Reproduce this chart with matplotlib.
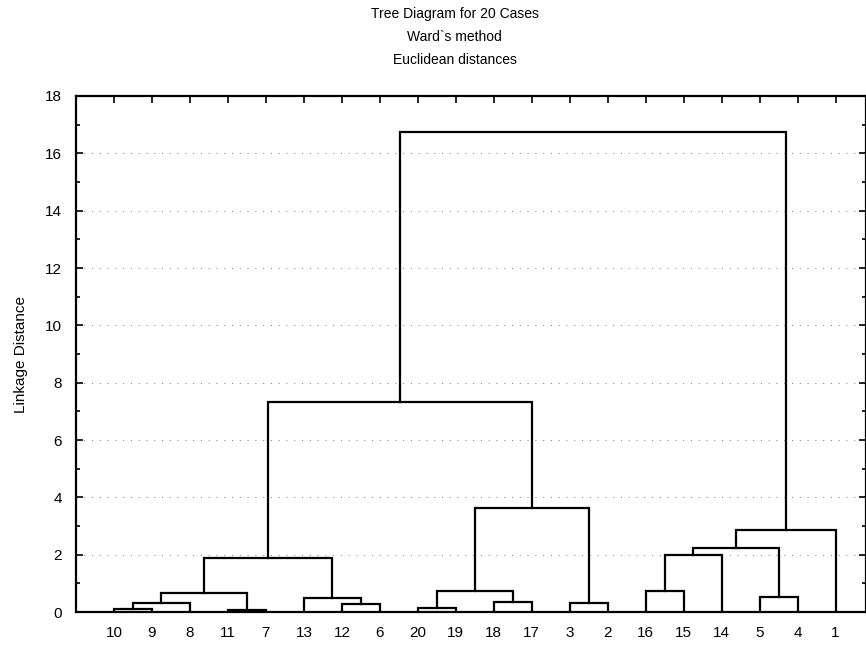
import matplotlib.pyplot as plt
from matplotlib.ticker import MultipleLocator

plt.rcParams["font.family"] = ["Liberation Sans", "DejaVu Sans"]
plt.rcParams["font.size"] = 11

# leaf order along the x axis
LEAVES = [10, 9, 8, 11, 7, 13, 12, 6, 20, 19, 18, 17, 3, 2, 16, 15, 14, 5, 4, 1]

# merges: (left, right, linkage distance); "mN" refers to the N-th merge (1-based)
MERGE_LEFT = [10, "m1", 11, "m2", 12, 13, "m4", 20, 18, "m8", 3, "m10", "m7",
              16, "m14", 5, "m15", "m17", "m13"]
MERGE_RIGHT = [9, 8, 7, "m3", 6, "m5", "m6", 19, 17, "m9", 2, "m11", "m12",
               15, 14, 4, "m16", 1, "m18"]
MERGE_HEIGHT = [0.10, 0.30, 0.06, 0.67, 0.28, 0.48, 1.88, 0.15, 0.36, 0.72, 0.32,
                3.63, 7.34, 0.75, 1.98, 0.54, 2.25, 2.87, 16.75]

fig = plt.figure(figsize=(8.66, 6.46), dpi=100)
ax = fig.add_axes([0.0878, 0.0526, 0.9122, 0.7988])

pos = {leaf: i + 1 for i, leaf in enumerate(LEAVES)}
height = {leaf: 0.0 for leaf in LEAVES}

for k, (a, b, h) in enumerate(zip(MERGE_LEFT, MERGE_RIGHT, MERGE_HEIGHT)):
    xa, xb = pos[a], pos[b]
    ha, hb = height[a], height[b]
    ax.plot([xa, xa, xb, xb], [ha, h, h, hb], color="black", lw=1.6,
            solid_joinstyle="miter", zorder=3)
    name = "m" + str(k + 1)
    pos[name] = (xa + xb) / 2
    height[name] = h

# sparse dotted grid like the scanned original
for g in range(2, 18, 2):
    ax.axhline(g, color="#777777", lw=0.7, linestyle=(0, (1, 7)), zorder=1)

ax.set_xlim(0, 20.8)
ax.set_ylim(0, 18)
ax.set_xticks(range(1, len(LEAVES) + 1))
ax.set_xticklabels([str(l) for l in LEAVES])
ax.yaxis.set_major_locator(MultipleLocator(2))
ax.yaxis.set_minor_locator(MultipleLocator(1))
ax.tick_params(axis="both", which="both", direction="in", top=True, right=True,
               width=1.2, labelsize=11)
ax.tick_params(axis="x", bottom=False)
ax.tick_params(axis="both", which="major", length=5)
ax.tick_params(axis="y", which="minor", length=3)
ax.tick_params(axis="x", pad=10)
ax.tick_params(axis="y", pad=10)
for s in ax.spines.values():
    s.set_linewidth(1.6)

ax.set_ylabel("Linkage Distance", fontsize=11, labelpad=12)

fig.text(0.525, 0.979, "Tree Diagram for 20 Cases", ha="center", va="center", fontsize=10)
fig.text(0.525, 0.942, "Ward`s method", ha="center", va="center", fontsize=10)
fig.text(0.525, 0.907, "Euclidean distances", ha="center", va="center", fontsize=10)

plt.savefig("out.png", dpi=100)
